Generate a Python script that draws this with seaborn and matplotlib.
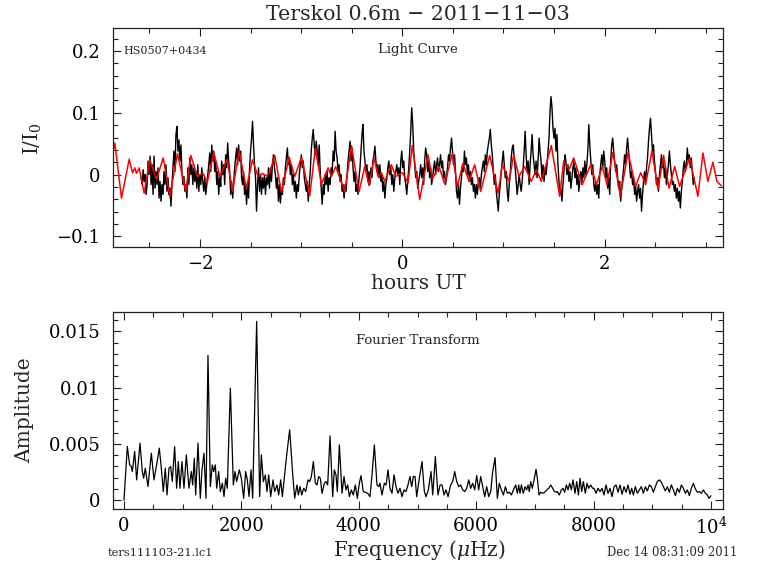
import numpy as np
import pandas as pd
import matplotlib
matplotlib.use("Agg")
import matplotlib.pyplot as plt
from matplotlib.ticker import MultipleLocator, FuncFormatter
import seaborn as sns

# ---------------- data ----------------
# light curve (black), relative flux in units of 1e-3, one sample per ~36 s
lc_start_h = -2.582
lc_end_h = 2.886
lc_part1 = [-5,-16,8,-11,0,-32,-16,22,0,30,-16,16,-32,30,-22,5,-16,11,-38,-11,-43,-16,-32,5,-16,16,-27,-5,-32,-22,
            -51,-16,11,38,5,65,78,38,56,22,48,5,-16,-3,-27,-16,-38,11,-16,27,0,16,-16,11,-11,5,-22,16,-27,0,
            -16,11,-11,-27,-5,-32,-16,0,16,35,5,48,22,38,5,22,-16,5,-32,-5,-19,22,0,16,-16,32,11,51,22,5,
            -32,-11,-38,-16,11,27,43,16,48,22,38,-5,-16,5,-32,-16,-48,-11,-38,11,38,59,86,48,16,-5,-59,-16,11,-27,
            0,-32,-5,-22,0,-32,-5,-16,11,-22,11,-11,16,32,11,0,-22,-5,-43,-16,-46,-22,-32,-5,-16,11,27,43,16,27,
            0,16,-16,0,-27,-11,-38,-16,-27,0,16,32,11,22,-5,-16,-27,-11,-43,-16,5,38,59,73,48,32,54,38]
lc_part2 = [16,48,5,-22,-48,-16,-32,0,-16,5,-27,-5,-16,11,0,38,22,70,38,27,5,16,-11,0,-27,-16,-38,-16,-27,0,
            22,38,54,22,43,11,-11,5,-27,-16,-32,-5,11,38,65,81,38,22,5,16,-11,5,-16,11,-5,22,32,46,22,5,
            16,-5,16,-11,0,-27,-11,-38,-16,-5,11,22,0,11,-16,0,-27,-5,5,16,0,11,-16,22,38,11,22,-5,-16,-32,
            -11,11,38,70,108,81,38,16,-5,5,-22,-11,0,16,-5,11,-16,22,43,32,5,22,-5,11,-16,-5,11,22,0,16,
            27,5,16,32,11,22,-5,5,-16,-5,11,32,22,43,59,38,16,32,5,-27,-38,-16,-48,-22,-5,16,5,38,16,27,
            0,16,-11,5,-16,-5,-27,-16,-38,-16,-32,-11,-5,-22,0,11,22,5,32,16,38,48,59,73,48,32,5,-16,0,-27,
            -43,-59,-32,-16,5,22,38,16,-5,5,-27,-43,-16,0,27,43,48,27,11,-11,-32,-16]
lc_part3 = [0,-16,-27,-11,11,38,70,32,5,22,-16,16,38,65,32,16,0,22,-5,22,59,38,22,-5,16,-11,11,0,16,38,
            59,102,126,108,75,59,75,38,65,16,-11,-32,-22,-43,-16,5,32,22,0,16,-11,5,-22,-5,11,22,-5,11,-16,0,
            -27,-11,5,-16,11,-5,22,0,16,38,81,48,22,0,16,-16,-27,-11,-32,-16,-38,0,16,32,11,38,22,-5,11,-22,
            -5,-32,22,48,59,38,22,5,16,-5,-22,-11,-43,-22,-5,11,32,16,43,59,38,16,-5,5,-16,-5,-32,-16,-43,-27,
            -16,-38,-22,-59,-32,-11,5,-16,11,27,54,75,91,65,38,48,22,5,-16,-5,-27,0,16,32,11,22,-5,11,-16,0,
            16,38,16,0,-16,-11,-27,-16,-38,-22,-43,-27,-54,-27,-11,11,22,5,16,43,22,32,11,27,5,-16,-5]

# smoothed light curve (red): hours and relative flux in units of 1e-3
fit_hours = [-2.859,-2.842,-2.776,-2.700,-2.667,-2.644,-2.628,-2.601,-2.552,-2.496,-2.430,-2.364,-2.298,-2.223,
             -2.140,-2.091,-2.025,-1.969,-1.929,-1.864,-1.804,-1.732,-1.679,-1.613,-1.541,-1.482,-1.426,-1.383,
             -1.343,-1.310,-1.261,-1.195,-1.119,-1.063,-0.997,-0.915,-0.859,-0.800,-0.734,-0.701,-0.658,-0.569,
             -0.503,-0.428,-0.372,-0.329,-0.279,-0.240,-0.207,-0.174,-0.108,-0.065,0.001,0.057,0.099,0.172,
             0.254,0.297,0.363,0.419,0.495,0.544,0.600,0.659,0.715,0.775,0.864,0.946,0.989,1.055,1.101,1.153,
             1.209,1.275,1.325,1.374,1.473,1.555,1.595,1.648,1.694,1.779,1.862,1.918,1.977,2.023,2.082,2.155,
             2.231,2.306,2.356,2.405,2.468,2.527,2.583,2.636,2.692,2.741,2.840,2.922,2.972,3.021,3.070,3.110,3.153]
fit_flux = [38,51,-38,25,3,11,2,11,-30,24,-8,27,-35,34,
            -27,31,-3,2,-13,36,-3,25,-27,38,-23,24,-3,2,
            -2,3,31,-28,28,-3,28,-34,43,-16,11,-3,13,-28,
            47,-28,13,-18,27,-3,3,-11,16,-3,3,-13,47,-40,
            32,-7,13,-15,34,-19,18,-11,16,-27,31,-30,16,-11,32,-3,
            13,-11,8,-11,47,-35,22,8,27,-16,16,-16,13,-16,36,-35,
            36,-19,3,-15,38,-23,31,-22,13,-19,27,-35,35,-11,20,-11,-18]

# Fourier transform: frequency (microHz) and amplitude (units of 1e-4)
ft_freq = [0,57,97,125,142,182,216,273,312,335,363,409,466,511,551,602,636,670,704,733,767,795,823,863,897,
           926,954,988,1022,1062,1107,1147,1170,1198,1221,1261,1300,1329,1363,1397,1431,1471,1505,1528,1556,
           1579,1613,1641,1675,1704,1732,1760,1812,1863,1891,1919,1965,1999,2039,2073,2101,2130,2164,2192,
           2260,2311,2340,2374,2408,2436,2465,2499,2539,2567,2607,2635,2669,2698,2766,2822,2879,2908,2947,
           2970,2999,3027,3061,3095,3135,3163,3192,3226,3260,3288,
           3316,3345,3373,3413,3441,3470,3510,3555,3583,3612,3634,3669,3714,3748,3782,3811,3839,3873,3907,
           3941,3975,4009,4038,4077,4111,4151,4191,4225,4265,4310,4339,4361,4395,4435,4464,4498,4532,4566,
           4600,4634,4668,4702,4736,4770,4804,4838,4872,4901,4929,4958,4986,5031,5077,5117,5145,5185,5230,
           5259,5304,5349,5384,5418,5452,5486,5520,5565,5599,5634,5668,5702,5736,5770,5804,5838,5872,5906,
           5940,5974,6008,6042,6076,6110,6145,6179,6213,6247,6281,6321,6360,6394,6428,6463,6497,6531,6565,
           6599,6633,
           6672,6701,6724,6746,6769,6803,6831,6860,6883,6905,6928,6956,6985,7019,7042,7070,7098,7132,7166,
           7201,7235,7269,7303,7325,7360,7382,7416,7450,7479,7507,7536,7564,7592,7621,7649,7683,7712,7740,
           7768,7797,7825,7859,7888,7916,7950,7984,8007,8041,8075,8109,8143,8177,8211,8245,8280,8314,8348,
           8382,8416,8450,8484,8518,8552,8586,8620,8649,8677,8711,8745,8779,8813,8847,8882,8916,8950,8984,
           9018,9052,9086,9120,9154,9188,9222,9256,9290,9324,9359,9393,9427,9461,9495,9529,9563,9597,9631,
           9665,9699,9733,9767,9801,9836,9870,9904,9938,9966,10000]
ft_amp = [0,47.7,31.4,30.0,25.5,43.3,18.1,50.7,25.5,19.6,28.5,12.2,41.8,18.1,30.0,46.3,28.5,7.7,28.5,4.7,28.5,
          30.0,16.6,47.7,10.7,34.4,10.7,34.4,10.7,40.3,10.7,25.5,13.6,37.4,4.7,50.7,1.8,27.0,41.8,1.8,128.7,
          12.2,31.4,25.5,31.4,10.7,25.5,7.7,15.1,3.3,19.6,10.7,99.6,13.6,25.5,16.6,27.0,19.6,1.8,25.5,18.1,
          3.3,27.0,1.8,159.0,3.3,40.3,16.6,22.5,7.7,22.5,3.3,18.1,7.7,13.6,4.7,18.1,3.3,37.4,62.6,19.6,1.8,
          13.6,4.7,12.2,4.7,10.7,7.7,18.1,16.6,21.1,34.4,15.1,13.6,
          21.1,19.5,6.2,15.1,16.6,13.6,57.2,3.2,27.0,22.5,7.7,49.2,6.2,21.1,9.2,13.6,3.2,9.2,4.7,
          13.6,1.7,15.1,21.9,7.7,7.1,6.2,3.2,22.5,49.2,13.6,12.1,15.1,4.7,15.1,13.6,27.0,10.6,6.2,
          22.5,12.1,6.2,10.6,3.2,9.2,7.7,13.6,21.1,12.1,21.1,21.1,3.2,19.5,34.4,7.7,3.2,9.2,25.5,
          4.7,38.8,4.7,13.6,13.6,4.7,9.2,3.2,13.6,16.6,25.5,16.6,12.1,13.6,9.2,7.7,10.6,18.1,10.6,
          15.1,9.2,21.9,9.2,21.1,12.1,3.2,12.1,3.2,7.7,25.5,37.9,1.7,15.1,9.2,4.7,12.1,6.2,7.1,
          4.7,9.2,
          13.6,6.2,13.6,6.2,13.6,6.2,12.1,9.2,13.6,7.7,16.6,10.6,18.1,27.5,19.5,4.7,7.1,6.2,7.1,
          9.2,10.6,13.6,10.6,8.3,7.1,7.7,4.7,9.2,10.6,7.1,13.6,9.2,15.1,9.2,18.1,6.2,16.6,4.7,
          19.5,7.7,16.6,6.2,15.1,10.6,13.6,10.6,10.6,6.2,10.6,7.7,10.6,4.7,13.6,6.2,10.6,3.2,12.1,
          13.6,7.1,13.6,5.3,12.1,7.1,13.6,5.3,10.6,4.7,12.1,6.2,9.2,12.1,6.2,12.1,8.3,13.6,12.1,
          7.1,12.1,16.6,18.1,16.0,12.1,8.3,12.1,7.1,13.6,9.2,4.1,10.6,7.1,13.6,10.6,6.2,9.2,4.1,
          10.6,15.1,10.1,7.1,7.7,6.2,9.2,6.2,4.7,1.7,4.0]

title_text = "Terskol 0.6m \u2212 2011\u221211\u221203"
object_name = "HS0507+0434"
file_name = "ters111103-21.lc1"
date_stamp = "Dec 14 08:31:09 2011"

# ---------------- frames ----------------
lc_vals = np.array(lc_part1 + lc_part2 + lc_part3, dtype=float) / 1000.0
df_lc = pd.DataFrame({"hours": np.linspace(lc_start_h, lc_end_h, len(lc_vals)), "flux": lc_vals})
df_fit = pd.DataFrame({"hours": fit_hours, "flux": np.array(fit_flux, dtype=float) / 1000.0})
df_ft = pd.DataFrame({"freq": ft_freq, "amp": np.array(ft_amp) / 1e4})

# ---------------- style ----------------
sns.set_theme(style="ticks")
plt.rcParams["font.family"] = ["DejaVu Serif"]
plt.rcParams["mathtext.fontset"] = "dejavuserif"

W, H = 768, 574
fig = plt.figure(figsize=(W / 100, H / 100), dpi=100)
ax1 = fig.add_axes([113 / W, 1 - 247 / H, 610 / W, 219 / H])
ax2 = fig.add_axes([113 / W, 1 - 508.7 / H, 610 / W, 196.4 / H])

sns.lineplot(data=df_lc, x="hours", y="flux", ax=ax1, color="black", lw=1.0,
             estimator=None, sort=False)
sns.lineplot(data=df_fit, x="hours", y="flux", ax=ax1, color="#ff0000", lw=1.1,
             estimator=None, sort=False)
sns.lineplot(data=df_ft, x="freq", y="amp", ax=ax2, color="black", lw=0.9,
             estimator=None, sort=False)

def fmt_g(v, pos):
    if abs(v) < 1e-12:
        return "0"
    return ("%g" % v).replace("-", "\u2212")

def fmt_freq(v, pos):
    if abs(v - 10000) < 1:
        return "$10^4$"
    return "%d" % round(v)

ax1.set_xlim(-2.86, 3.17)
ax1.set_ylim(-0.117, 0.237)
ax1.xaxis.set_major_locator(MultipleLocator(2))
ax1.xaxis.set_minor_locator(MultipleLocator(0.5))
ax1.yaxis.set_major_locator(MultipleLocator(0.1))
ax1.yaxis.set_minor_locator(MultipleLocator(0.02))
ax1.xaxis.set_major_formatter(FuncFormatter(fmt_g))
ax1.yaxis.set_major_formatter(FuncFormatter(fmt_g))

ax2.set_xlim(-187, 10204)
ax2.set_ylim(-0.00075, 0.0167)
ax2.xaxis.set_major_locator(MultipleLocator(2000))
ax2.xaxis.set_minor_locator(MultipleLocator(500))
ax2.yaxis.set_major_locator(MultipleLocator(0.005))
ax2.yaxis.set_minor_locator(MultipleLocator(0.001))
ax2.xaxis.set_major_formatter(FuncFormatter(fmt_freq))
ax2.yaxis.set_major_formatter(FuncFormatter(fmt_g))

for ax in (ax1, ax2):
    ax.set_xlabel("")
    ax.set_ylabel("")
    ax.grid(False)
    for s in ax.spines.values():
        s.set_linewidth(0.9)
        s.set_color("#222222")
    ax.tick_params(which="both", direction="in", top=True, right=True,
                   color="#222222", width=0.8, labelsize=13, labelcolor="black")
    ax.tick_params(which="major", length=6)
    ax.tick_params(which="minor", length=3.5)
    ax.tick_params(axis="y", which="major", pad=9)
    ax.tick_params(axis="x", which="major", pad=6)

def ftxt(x, y, s, **kw):
    fig.text(x / W, 1 - y / H, s, **kw)

ftxt(418, 14, title_text, ha="center", va="center", fontsize=14.8)
ftxt(418, 283, "hours UT", ha="center", va="center", fontsize=14.5)
ftxt(33, 139, "I/I$_0$", ha="center", va="center", fontsize=14.5, rotation=90)
ftxt(25, 410, "Amplitude", ha="center", va="center", fontsize=14.5, rotation=90)
ftxt(419, 550, "Frequency ($\\mu$Hz)", ha="center", va="center", fontsize=14.5)
ftxt(123, 51, object_name, ha="left", va="center", fontsize=8)
ftxt(418, 50, "Light Curve", ha="center", va="center", fontsize=9.5)
ftxt(418, 341, "Fourier Transform", ha="center", va="center", fontsize=9.5)
ftxt(108, 553, file_name, ha="left", va="center", fontsize=8.2)
ftxt(737, 553, date_stamp, ha="right", va="center", fontsize=8.4)

fig.savefig("out.png", dpi=100, facecolor="white")
